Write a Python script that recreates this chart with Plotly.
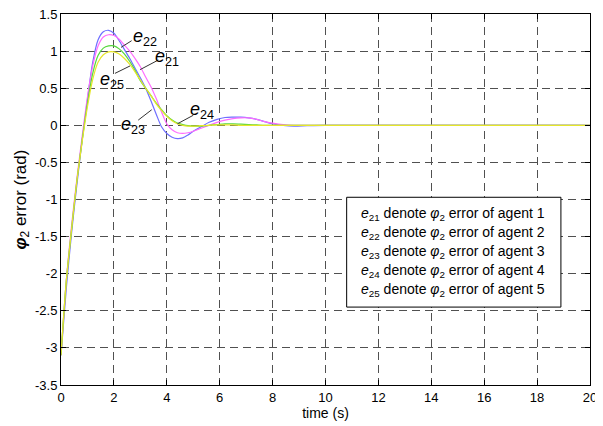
import plotly.graph_objects as go

# time grid (s)
t = [0, 0.2, 0.4, 0.6, 0.8, 1.0, 1.2, 1.4, 1.6, 1.8, 2.0, 2.2, 2.4, 2.6, 2.8, 3.0,
     3.2, 3.4, 3.6, 3.8, 4.0, 4.2, 4.4, 4.6, 4.8, 5.0, 5.3, 5.6, 5.9, 6.2, 6.5,
     6.8, 7.1, 7.4, 7.7, 8.0, 8.4, 8.8, 9.3, 10, 12, 14, 16, 18, 20]

# phi_2 error series (rad)
e23_blue = [-3.1, -2.2, -1.45, -0.8, -0.2, 0.35, 0.85, 1.15, 1.26, 1.28, 1.24, 1.14, 1.02, 0.9, 0.77, 0.64,
            0.5, 0.33, 0.15, -0.02, -0.11, -0.16, -0.18, -0.17, -0.13, -0.08, -0.02, 0.04, 0.08, 0.105, 0.11,
            0.11, 0.1, 0.08, 0.05, 0.02, 0.0, -0.01, -0.005, 0, 0, 0, 0, 0, 0]
e21_magenta = [-3.1, -2.1, -1.35, -0.72, -0.15, 0.38, 0.8, 1.07, 1.19, 1.22, 1.21, 1.16, 1.08, 1.0, 0.9, 0.79,
               0.65, 0.52, 0.36, 0.18, 0.02, -0.06, -0.1, -0.11, -0.1, -0.08, -0.04, 0.0, 0.04, 0.07, 0.09,
               0.1, 0.1, 0.08, 0.05, 0.03, 0.01, 0.0, 0, 0, 0, 0, 0, 0, 0]
e22_green = [-3.1, -2.1, -1.4, -0.75, -0.2, 0.3, 0.7, 0.94, 1.04, 1.07, 1.07, 1.03, 0.96, 0.86, 0.74, 0.6,
             0.5, 0.4, 0.3, 0.21, 0.13, 0.07, 0.03, 0.01, -0.005, -0.01, -0.01, 0.0, 0.01, 0.02, 0.02,
             0.015, 0.01, 0.005, 0, 0, 0, 0, 0, 0, 0, 0, 0, 0, 0]
e25_yellow = [-3.1, -2.1, -1.4, -0.75, -0.22, 0.25, 0.62, 0.85, 0.95, 0.99, 0.99, 0.96, 0.9, 0.82, 0.72, 0.61,
              0.5, 0.4, 0.29, 0.2, 0.12, 0.06, 0.02, 0.0, -0.01, -0.01, -0.005, 0, 0.005, 0.005, 0.005,
              0, 0, 0, 0, 0, 0, 0, 0, 0, 0, 0, 0, 0, 0]

x_ticks = [0, 2, 4, 6, 8, 10, 12, 14, 16, 18, 20]
x_ticktext = ["0", "2", "4", "6", "8", "10", "12", "14", "16", "18", "20"]
y_ticks = [1.5, 1, 0.5, 0, -0.5, -1, -1.5, -2, -2.5, -3, -3.5]
y_ticktext = ["1.5", "1", "0.5", "0", "-0.5", "-1", "-1.5", "-2", "-2.5", "-3", "-3.5"]

legend_lines = [
    "<i>e</i><sub>21</sub> denote <i>φ</i><sub>2</sub> error of agent 1",
    "<i>e</i><sub>22</sub> denote <i>φ</i><sub>2</sub> error of agent 2",
    "<i>e</i><sub>23</sub> denote <i>φ</i><sub>2</sub> error of agent 3",
    "<i>e</i><sub>24</sub> denote <i>φ</i><sub>2</sub> error of agent 4",
    "<i>e</i><sub>25</sub> denote <i>φ</i><sub>2</sub> error of agent 5",
]
legend_y = [-1.19, -1.446, -1.703, -1.96, -2.216]

# curve labels: (text, label x, label y, leader x0, y0, x1, y1)
curve_labels = [
    ("22", 3.18, 1.18, 2.67, 1.14, 2.27, 1.05),
    ("21", 3.99, 0.91, 3.68, 0.88, 2.99, 0.75),
    ("25", 1.92, 0.61, 2.04, 0.70, 2.61, 0.80),
    ("23", 2.73, 0.0, 2.92, 0.07, 3.43, 0.21),
    ("24", 5.32, 0.20, 5.0, 0.135, 4.40, 0.02),
]

FONT = "Liberation Sans, Arial, sans-serif"

fig = go.Figure()
for name, ys, col in [("e23", e23_blue, "#6f6fff"), ("e21", e21_magenta, "#ff6cff"),
                      ("e22", e22_green, "#55d83c"), ("e25", e25_yellow, "#e6e62a")]:
    fig.add_trace(go.Scatter(x=t, y=ys, mode="lines", name=name, showlegend=False,
                             line=dict(color=col, width=1.2, shape="spline", smoothing=0.8)))

# legend box
fig.add_shape(type="rect", xref="x", yref="y", x0=10.8, x1=18.9, y0=-2.45, y1=-0.97,
              fillcolor="white", line=dict(color="black", width=1), layer="above")
for txt, yy in zip(legend_lines, legend_y):
    fig.add_annotation(x=11.27, y=yy, xref="x", yref="y", text=txt, showarrow=False,
                       xanchor="left", yanchor="middle", font=dict(family=FONT, size=14, color="black"))

for sub, lx, ly, x0, y0, x1, y1 in curve_labels:
    fig.add_shape(type="line", xref="x", yref="y", x0=x0, y0=y0, x1=x1, y1=y1,
                  line=dict(color="#333333", width=1), layer="above")
    fig.add_annotation(x=lx, y=ly, xref="x", yref="y", text="<i>e</i><sub>" + sub + "</sub>",
                       showarrow=False, xanchor="center", yanchor="middle",
                       font=dict(family=FONT, size=18, color="black"))

axis_common = dict(showline=True, linecolor="black", linewidth=1, mirror="ticks",
                   ticks="inside", ticklen=5, tickcolor="black", automargin=False,
                   ticklabeloverflow="allow",
                   showgrid=True, gridcolor="#505050", gridwidth=1, griddash="8px,5px",
                   zeroline=False, tickfont=dict(family=FONT, size=13, color="black"))

fig.update_xaxes(range=[0, 20], tickvals=x_ticks, ticktext=x_ticktext,
                 title=dict(text="time (s)", font=dict(family=FONT, size=14, color="black"), standoff=2),
                 **axis_common)
fig.update_yaxes(range=[-3.5, 1.5], tickvals=y_ticks, ticktext=y_ticktext,
                 title=dict(text="<b><i>φ</i></b><sub>2</sub> error (rad)",
                            font=dict(family=FONT, size=17, color="black"), standoff=4),
                 **axis_common)

# page body has an 8px default margin, so the figure is sized to fit the window after it
fig.update_layout(width=595, height=418, margin=dict(l=53, r=13, t=6, b=41),
                  plot_bgcolor="white", paper_bgcolor="white")

fig.write_html("out.html")
